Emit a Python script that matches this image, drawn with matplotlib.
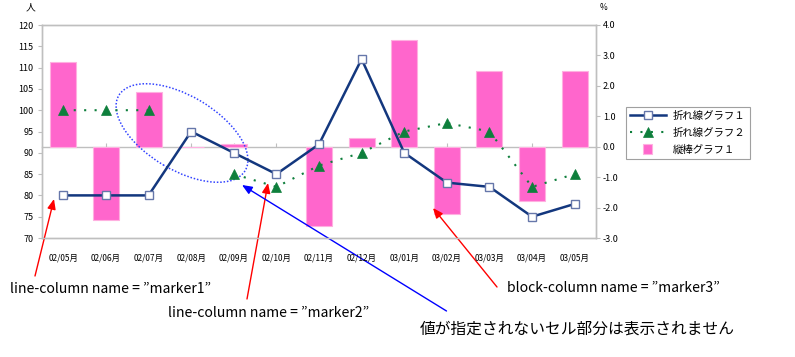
import matplotlib
matplotlib.use('Agg')
import matplotlib.pyplot as plt
import numpy as np
from matplotlib.patches import Ellipse, FancyArrowPatch, Rectangle
from matplotlib.legend_handler import HandlerPatch, update_from_first_child
from matplotlib.container import BarContainer

plt.rcParams['font.family'] = ['Noto Sans CJK JP', 'DejaVu Sans']
plt.rcParams['axes.unicode_minus'] = False

# ---------------- data ----------------
categories = ['02/05月', '02/06月', '02/07月', '02/08月', '02/09月', '02/10月', '02/11月',
              '02/12月', '03/01月', '03/02月', '03/03月', '03/04月', '03/05月']
line1_values = [80, 80, 80, 95, 90, 85, 92, 112, 90, 83, 82, 75, 78]
line2_values = [100, 100, 100, np.nan, 85, 82, 87, 90, 95, 97, 95, 82, 85]
bar_values = [2.8, -2.4, 1.8, 0.0, 0.1, np.nan, -2.6, 0.3, 3.5, -2.2, 2.5, -1.8, 2.5]
left_ticks = [70, 75, 80, 85, 90, 95, 100, 105, 110, 115, 120]
right_ticks = [-3.0, -2.0, -1.0, 0.0, 1.0, 2.0, 3.0, 4.0]
series_names = ['折れ線グラフ１', '折れ線グラフ２', '縦棒グラフ１']
left_unit = '人'
right_unit = '%'
notes = ['line-column name = ”marker1”', 'line-column name = ”marker2”',
         'block-column name = ”marker3”', '値が指定されないセル部分は表示されません']

# ---------------- figure ----------------
W, H = 795, 357
fig = plt.figure(figsize=(W / 100, H / 100), dpi=100)
GREY = '#BFBFBF'

ax = fig.add_axes([42 / W, 1 - 238 / H, (596 - 42) / W, (238 - 25) / H])
ax2 = ax.twinx()
x = np.arange(len(categories))

bc = ax2.bar(x, bar_values, width=0.61, color='#FF66CC', edgecolor='#FFB0E0',
             linewidth=0.8, label=series_names[2])
ax2.set_ylim(-3, 4)
ax2.set_yticks(right_ticks, labels=[f'{v:.1f}' for v in right_ticks])
ax2.tick_params(axis='y', length=3, color=GREY, labelsize=6.5, pad=2)

l1, = ax.plot(x, line1_values, color='#13377E', lw=1.8, marker='s', ms=5.8,
              mfc='white', mec='#6677AA', mew=1.0, label=series_names[0], zorder=4)
l2, = ax.plot(x, line2_values, color='#0E7F3C', lw=1.5, ls=(0, (1, 4)), marker='^',
              ms=6.8, mfc='#0E7F3C', mec='#0E7F3C', mew=0.5, label=series_names[1], zorder=3)
ax.set_xlim(-0.5, len(categories) - 0.5)
ax.set_ylim(70, 120)
ax.set_yticks(left_ticks)
ax.tick_params(axis='y', length=3, color=GREY, labelsize=6.5, pad=3)
ax.set_xticks(x, labels=categories)
ax.tick_params(axis='x', length=0, pad=11, labelsize=6)

ax.set_zorder(ax2.get_zorder() + 1)
ax.patch.set_visible(False)
for a in (ax, ax2):
    for s in a.spines.values():
        s.set_color(GREY)
        s.set_linewidth(1)

# category axis at secondary-axis zero
sec = ax2.secondary_xaxis(3 / 7)
sec.set_xticks(x)
sec.tick_params(direction='in', length=3, color=GREY, labelbottom=False, labeltop=False)
for s in sec.spines.values():
    s.set_color(GREY)
    s.set_linewidth(1)

# units
fig.text(30 / W, 1 - 7 / H, left_unit, fontsize=7, ha='center', va='center')
fig.text(604 / W, 1 - 7 / H, right_unit, fontsize=6, ha='center', va='center')

# legend
def square_patch(legend, orig_handle, xdescent, ydescent, width, height, fontsize):
    s = height * 1.25
    return Rectangle((width / 2 - s / 2 - xdescent, height / 2 - s / 2 - ydescent), s, s)

leg = ax.legend([l1, l2, bc], series_names, loc='upper left',
                bbox_to_anchor=(626 / W, 1 - 106.7 / H), bbox_transform=fig.transFigure,
                borderaxespad=0, fancybox=False, edgecolor='#A0A0A0', framealpha=1,
                fontsize=7.5, handlelength=3.4, handletextpad=0.7, labelspacing=0.65,
                borderpad=0.4,
                handler_map={BarContainer: HandlerPatch(patch_func=square_patch,
                                                        update_func=update_from_first_child)})
leg.get_frame().set_linewidth(0.8)

# annotations (positions in pixels -> inches)
T = fig.dpi_scale_trans
def P(px, py):
    return (px / 100, (H - py) / 100)

ell = Ellipse(P(182, 133), 1.47, 0.74, angle=-30.8, transform=T, fill=False,
              edgecolor='#3344FF', lw=1.1, ls=(0, (1, 1.2)))
fig.add_artist(ell)

arrows = [((35, 276), (54, 199), '#FF0000'),
          ((247, 299), (268, 183), '#FF0000'),
          ((497, 287), (433, 208), '#FF0000'),
          ((446.5, 311), (242, 185), '#0000FF')]
for (ta, hd, col) in arrows:
    fa = FancyArrowPatch(P(*ta), P(*hd), transform=T,
                         arrowstyle='-|>,head_length=0.6,head_width=0.25',
                         mutation_scale=10, color=col, lw=1, shrinkA=0, shrinkB=0)
    fig.add_artist(fa)

fig.text(10 / W, 1 - 289 / H, notes[0], fontsize=10.1, ha='left', va='center')
fig.text(168 / W, 1 - 313 / H, notes[1], fontsize=10.1, ha='left', va='center')
fig.text(507 / W, 1 - 288 / H, notes[2], fontsize=10.1, ha='left', va='center')
fig.text(420 / W, 1 - 329 / H, notes[3], fontsize=11.3, ha='left', va='center')

fig.savefig('out.png', dpi=100)
